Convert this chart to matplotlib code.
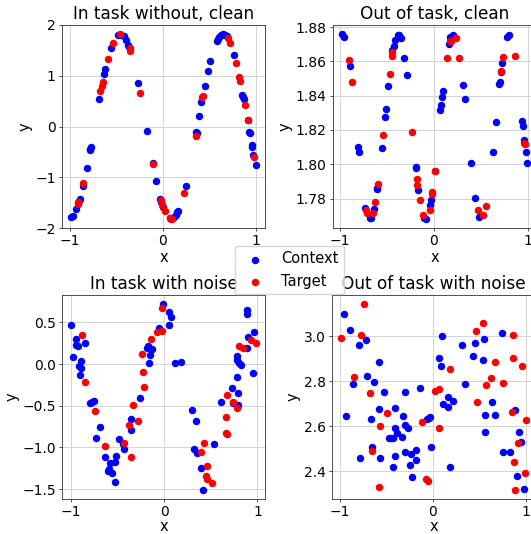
import matplotlib
matplotlib.use("Agg")
import matplotlib.pyplot as plt

titles = ["In task without, clean", "Out of task, clean",
          "In task with noise", "Out of task with noise"]

# Panel 1: In task without, clean
p1_ctx_x = [-0.984, -0.966, -0.930, -0.901, -0.894, -0.858, -0.819, -0.786, -0.779, -0.776,
            -0.689, -0.632, -0.618, -0.560, -0.485, -0.452, -0.420, -0.399, -0.373, -0.363,
            -0.273, -0.176, -0.111, -0.075, -0.029, -0.018, -0.004, 0.072, 0.090, 0.118,
            0.136, 0.154, 0.162, 0.248, 0.355, 0.363, 0.388, 0.409, 0.449, 0.481,
            0.506, 0.578, 0.592, 0.603, 0.625, 0.646, 0.664, 0.682, 0.761, 0.851,
            0.858, 0.865, 0.916, 0.923, 0.930, 0.952, 0.955, 0.969, 0.995]
p1_ctx_y = [-1.777, -1.764, -1.633, -1.462, -1.436, -1.174, -0.826, -0.466, -0.439, -0.400,
            0.538, 1.043, 1.141, 1.548, 1.810, 1.810, 1.784, 1.698, 1.600, 1.567,
            0.866, -0.079, -0.715, -1.075, -1.423, -1.482, -1.580, -1.810, -1.820, -1.790,
            -1.744, -1.685, -1.659, -1.167, -0.111, -0.125, 0.203, 0.479, 0.800, 1.102,
            1.298, 1.692, 1.718, 1.764, 1.803, 1.822, 1.803, 1.777, 1.416, 0.630,
            0.584, 0.538, 0.125, -0.105, -0.125, -0.367, -0.400, -0.564, -0.761]
p1_tgt_x = [-0.916, -0.908, -0.855, -0.671, -0.657, -0.646, -0.592, -0.539, -0.463, -0.359,
            -0.352, -0.248, -0.111, -0.022, -0.011, 0.025, 0.079, 0.101, 0.226, 0.352,
            0.420, 0.427, 0.697, 0.722, 0.779, 0.815, 0.822, 0.880, 0.908, 0.977]
p1_tgt_y = [-1.528, -1.489, -1.121, 0.702, 0.807, 0.872, 1.338, 1.652, 1.820, 1.548,
            1.489, 0.656, -0.741, -1.456, -1.541, -1.659, -1.810, -1.816, -1.311, -0.190,
            0.577, 0.603, 1.744, 1.652, 1.252, 0.970, 0.905, 0.433, 0.131, -0.597]

# Panel 2: Out of task, clean
p2_ctx_x = [-0.972, -0.950, -0.890, -0.801, -0.794, -0.726, -0.680, -0.666, -0.638, -0.602,
            -0.599, -0.552, -0.520, -0.510, -0.485, -0.439, -0.428, -0.410, -0.385, -0.371,
            -0.353, -0.314, -0.290, -0.190, -0.186, -0.165, -0.105, -0.083, -0.041, -0.027,
            0.012, 0.069, 0.080, 0.091, 0.101, 0.158, 0.176, 0.201, 0.307, 0.329,
            0.396, 0.439, 0.481, 0.623, 0.655, 0.694, 0.702, 0.712, 0.719, 0.773,
            0.797, 0.940, 0.943, 0.957, 0.975, 0.986]
p2_ctx_y = [1.8758, 1.8742, 1.8570, 1.8099, 1.8070, 1.7742, 1.7686, 1.7684, 1.7738, 1.7854,
            1.7864, 1.8093, 1.8273, 1.8321, 1.8456, 1.8667, 1.8690, 1.8723, 1.8754, 1.8752,
            1.8734, 1.8619, 1.8518, 1.7981, 1.7980, 1.7850, 1.7686, 1.7682, 1.7765, 1.7794,
            1.7960, 1.8314, 1.8346, 1.8393, 1.8427, 1.8700, 1.8742, 1.8754, 1.8462, 1.8379,
            1.8008, 1.7806, 1.7692, 1.8074, 1.8246, 1.8468, 1.8481, 1.8539, 1.8588, 1.8742,
            1.8752, 1.8254, 1.8225, 1.8144, 1.8070, 1.8008]
p2_tgt_x = [-0.904, -0.869, -0.716, -0.705, -0.645, -0.620, -0.591, -0.542, -0.467, -0.442,
            -0.439, -0.233, -0.179, -0.176, -0.147, -0.115, -0.044, -0.020, -0.016, 0.012,
            0.137, 0.172, 0.183, 0.233, 0.272, 0.464, 0.524, 0.549, 0.709, 0.730,
            0.858, 0.957, 0.968]
p2_tgt_y = [1.8609, 1.8478, 1.7731, 1.7713, 1.7713, 1.7777, 1.7887, 1.8169, 1.8528, 1.8632,
            1.8657, 1.8190, 1.7914, 1.7877, 1.7790, 1.7702, 1.7736, 1.7837, 1.7825, 1.7958,
            1.8617, 1.8719, 1.8717, 1.8736, 1.8618, 1.7731, 1.7702, 1.7754, 1.8545, 1.8624,
            1.8632, 1.8124, 1.8120]

# Panel 3: In task with noise
p3_ctx_x = [-0.993, -0.975, -0.943, -0.939, -0.918, -0.907, -0.900, -0.889, -0.889, -0.846,
            -0.792, -0.767, -0.746, -0.731, -0.681, -0.634, -0.602, -0.584, -0.573, -0.552,
            -0.520, -0.513, -0.520, -0.484, -0.437, -0.423, -0.348, -0.348, -0.258, -0.179,
            -0.176, -0.151, -0.161, -0.133, -0.050, -0.011, 0.050, 0.057, 0.075, 0.122,
            0.179, 0.297, 0.323, 0.348, 0.344, 0.401, 0.419, 0.538, 0.609, 0.728,
            0.742, 0.778, 0.778, 0.785, 0.792, 0.792, 0.803, 0.824, 0.885, 0.889,
            0.892, 0.900, 0.953, 0.968]
p3_ctx_y = [0.469, 0.080, 0.301, 0.224, 0.216, -0.024, -0.128, -0.048, 0.032, 0.248,
            -0.469, -0.457, -0.441, -0.882, -0.754, -1.114, -1.279, -1.259, -1.186, -1.311,
            -1.170, -1.102, -1.419, -0.894, -0.962, -1.014, -0.657, -0.786, -0.405, 0.192,
            0.216, 0.112, 0.012, 0.180, 0.433, 0.717, 0.625, 0.469, 0.569, 0.016,
            0.024, -0.549, -1.014, -1.070, -0.681, -1.242, -1.507, -0.962, -0.449, -0.289,
            -0.465, 0.100, 0.044, -0.160, -0.353, -0.493, 0.008, -0.016, 0.645, 0.605,
            0.188, 0.321, -0.112, 0.389]
p3_tgt_x = [-0.882, -0.846, -0.735, -0.634, -0.430, -0.376, -0.348, -0.337, -0.283, -0.237,
            -0.222, -0.211, -0.140, -0.072, -0.022, -0.018, 0.391, 0.423, 0.459, 0.448,
            0.462, 0.516, 0.674, 0.667, 0.667, 0.677, 0.742, 0.785, 0.803, 0.849,
            0.935, 0.982]
p3_tgt_y = [0.345, -0.220, -0.561, -0.982, -0.942, -0.725, -1.118, -0.489, -0.677, 0.120,
            -0.092, -0.273, 0.305, 0.389, 0.397, 0.677, -1.050, -0.950, -1.222, -1.343,
            -1.375, -1.427, -0.369, -0.633, -0.822, -0.838, -0.457, -0.525, 0.212, 0.192,
            0.293, 0.253]

# Panel 4: Out of task with noise
p4_ctx_x = [-0.964, -0.899, -0.935, -0.866, -0.801, -0.721, -0.707, -0.783, -0.663, -0.656,
            -0.641, -0.587, -0.583, -0.569, -0.529, -0.475, -0.449, -0.431, -0.431, -0.413,
            -0.406, -0.406, -0.388, -0.330, -0.319, -0.304, -0.304, -0.297, -0.272, -0.246,
            -0.236, -0.221, -0.188, -0.181, -0.145, -0.062, -0.040, -0.029, -0.018, 0.069,
            0.091, 0.101, 0.112, 0.159, 0.167, 0.181, 0.221, 0.308, 0.348, 0.428,
            0.457, 0.543, 0.554, 0.562, 0.558, 0.641, 0.667, 0.739, 0.757, 0.830,
            0.880, 0.906, 0.928, 0.953, 0.986]
p4_ctx_y = [3.098, 3.027, 2.647, 2.787, 2.960, 2.982, 2.821, 2.458, 2.633, 2.507,
            2.797, 2.677, 2.883, 2.459, 2.754, 2.547, 2.547, 2.547, 2.421, 2.683,
            2.593, 2.467, 2.572, 2.554, 2.647, 2.754, 2.604, 2.487, 2.591, 2.428,
            2.479, 2.376, 2.452, 2.495, 2.769, 2.634, 2.639, 2.641, 2.510, 2.905,
            2.867, 3.001, 2.701, 2.687, 2.730, 2.421, 2.711, 2.961, 2.788, 2.913,
            2.969, 2.895, 2.987, 2.652, 2.575, 2.708, 2.652, 3.013, 2.487, 2.486,
            2.673, 2.381, 2.575, 2.532, 2.324]
p4_tgt_x = [-0.989, -0.779, -0.746, -0.848, -0.681, -0.659, -0.587, -0.569, -0.500, -0.123,
            -0.080, -0.054, 0.025, 0.069, 0.062, 0.185, 0.467, 0.475, 0.543, 0.572,
            0.620, 0.667, 0.757, 0.859, 0.866, 0.851, 0.877, 0.880, 0.917, 0.960,
            1.000, 0.993]
p4_tgt_y = [2.991, 3.004, 3.141, 2.819, 2.747, 2.490, 2.330, 2.600, 2.659, 2.621,
            2.366, 2.359, 2.757, 2.764, 2.591, 2.853, 3.021, 2.708, 3.056, 2.782,
            2.813, 2.884, 2.793, 3.006, 2.905, 2.662, 2.441, 2.319, 2.526, 2.867,
            2.627, 2.391]

panels = [(p1_ctx_x, p1_ctx_y, p1_tgt_x, p1_tgt_y),
          (p2_ctx_x, p2_ctx_y, p2_tgt_x, p2_tgt_y),
          (p3_ctx_x, p3_ctx_y, p3_tgt_x, p3_tgt_y),
          (p4_ctx_x, p4_ctx_y, p4_tgt_x, p4_tgt_y)]

W, H = 531, 534
fig = plt.figure(figsize=(W / 100, H / 100), dpi=100)

# axes boxes in pixels: left, top, width, height
boxes = [(62, 25, 203, 203), (333, 25, 203, 203),
         (62, 295, 203, 204), (332, 295, 203, 204)]

axes = []
for i, ((cx, cy, tx, ty), title, (l, t, w, h)) in enumerate(zip(panels, titles, boxes)):
    ax = fig.add_axes([l / W, 1 - (t + h) / H, w / W, h / H])
    ax.grid(True, color="#d3d3d3", linewidth=0.7)
    ax.set_axisbelow(True)
    ax.scatter(cx, cy, s=19, c="blue", label="Context")
    ax.scatter(tx, ty, s=19, c="red", label="Target")
    ax.set_title(title, fontsize=12.2, pad=4)
    ax.set_xlabel("x", fontsize=10.5, labelpad=1 if i < 2 else 0)
    ax.set_ylabel("y", fontsize=10.5, labelpad=2)
    ax.tick_params(labelsize=10, length=2.5, pad=2.0, width=0.6, color="#333333")
    for sp in ax.spines.values():
        sp.set_linewidth(0.6)
        sp.set_color("#333333")
    handles, labels = ax.get_legend_handles_labels()
    axes.append(ax)

axes[0].set_ylim(-2.0, 2.0)

fig.legend(handles, labels, loc="center",
           bbox_to_anchor=(289.5 / W, 1 - 270 / H), fontsize=10.5)

fig.savefig("out.png", dpi=100)
